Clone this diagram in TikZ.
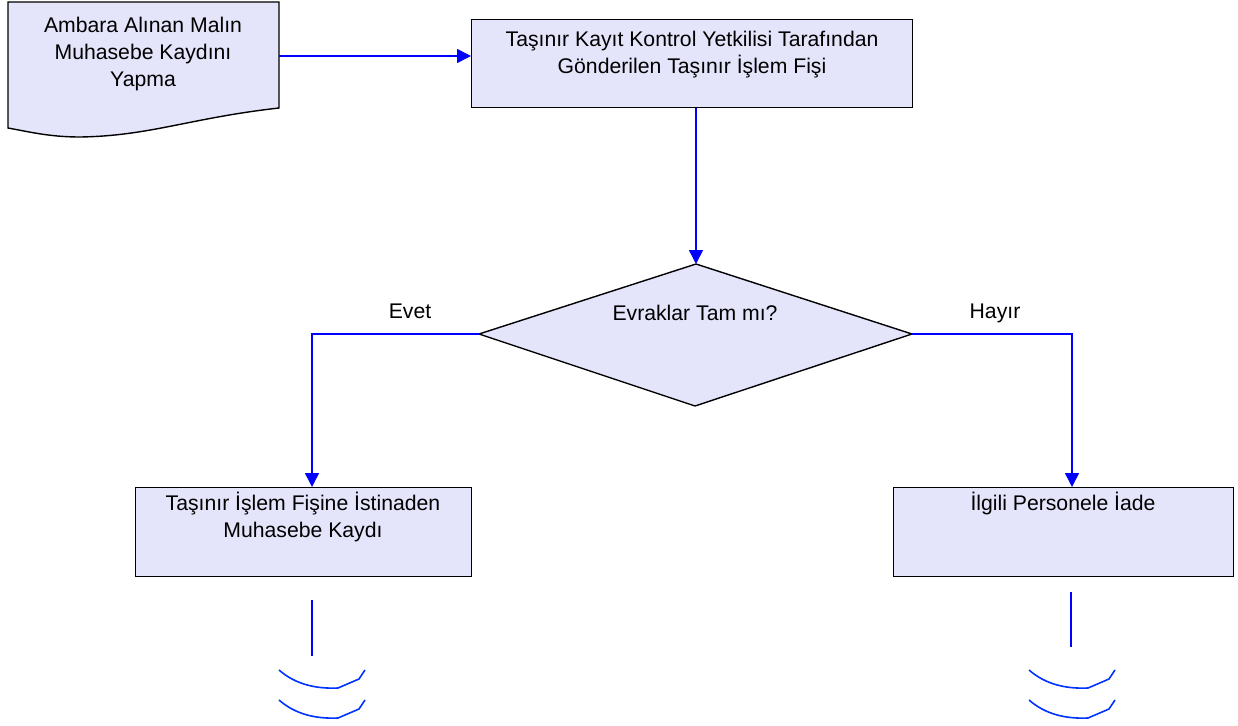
\documentclass[tikz,border=0pt]{standalone}
\usepackage{fontspec}
\setmainfont{Liberation Sans}
\usetikzlibrary{arrows.meta,shapes.geometric}
\definecolor{boxfill}{RGB}{228,228,250}
\definecolor{flow}{RGB}{0,0,255}
\definecolor{arcblue}{RGB}{0,51,255}
\tikzset{
  box/.style={draw=black, line width=1.4pt, fill=boxfill, rectangle, inner sep=0pt},
  txt/.style={font=\fontsize{21.2}{27}\selectfont, align=center, inner sep=0pt, anchor=base},
  flowline/.style={draw=flow, line width=1.6pt},
  flowarrow/.style={flowline, -{Triangle[length=14pt,width=14pt]}},
  endarc/.style={draw=arcblue, line width=1.6pt}
}
\begin{document}
\begin{tikzpicture}[x=1pt,y=-1pt]
\useasboundingbox (0,0) rectangle (1238,725);
% document shape
\draw[box] (8,2) -- (279,2) -- (279,108)
  .. controls (190,118) and (150,136) .. (80,137)
  .. controls (50,137) and (30,132) .. (8,128) -- cycle;
\coordinate (docR) at (279,56);
\node[txt] (t1) at (143,86) {Ambara Alınan Malın\\Muhasebe Kaydını\\Yapma};
% box 2
\node[box, minimum width=441pt, minimum height=88pt, anchor=north west] (b2) at (471,19) {};
\node[txt] (t2) at (692,74) {Taşınır Kayıt Kontrol Yetkilisi Tarafından\\Gönderilen Taşınır İşlem Fişi};
% diamond
\draw[box] (696,264) -- (912,334) -- (695,406) -- (479,334) -- cycle;
\coordinate (dT) at (696,264);
\coordinate (dL) at (479,334);
\coordinate (dR) at (912,334);
\node[txt] (t3) at (695,320) {Evraklar Tam mı?};
% box 3
\node[box, minimum width=336pt, minimum height=89pt, anchor=north west] (b3) at (135,487) {};
\node[txt] (t4) at (303,537) {Taşınır İşlem Fişine İstinaden\\Muhasebe Kaydı};
% box 4
\node[box, minimum width=340pt, minimum height=89pt, anchor=north west] (b4) at (893,487) {};
\node[txt] (t5) at (1063,510) {İlgili Personele İade};
% labels
\node[txt] (evet) at (410,318) {Evet};
\node[txt] (hayir) at (995,318) {Hayır};
% connectors
\draw[flowarrow] (docR) -- (b2.west |- docR);
\draw[flowarrow] (b2.south -| dT) -- (dT);
\coordinate (eL) at (312,334);
\coordinate (eR) at (1072,334);
\draw[flowarrow] (dL) -- (eL) -- (eL |- b3.north);
\draw[flowarrow] (dR) -- (eR) -- (eR |- b4.north);
% continuation lines
\coordinate (l1a) at (312,600); \coordinate (l1b) at (312,656);
\coordinate (l2a) at (1071,592); \coordinate (l2b) at (1071,647);
\draw[flowline] (l1a) -- (l1b);
\draw[flowline] (l2a) -- (l2b);
% off-page arcs
\foreach \dx in {0,750}{
  \foreach \dy in {0,30}{
    \draw[endarc] (279+\dx,670+\dy) .. controls (295+\dx,684+\dy) and (315+\dx,689+\dy) .. (338+\dx,688+\dy)
      -- (359+\dx,679+\dy) -- (365+\dx,670+\dy);
  }
}
\end{tikzpicture}
\end{document}
